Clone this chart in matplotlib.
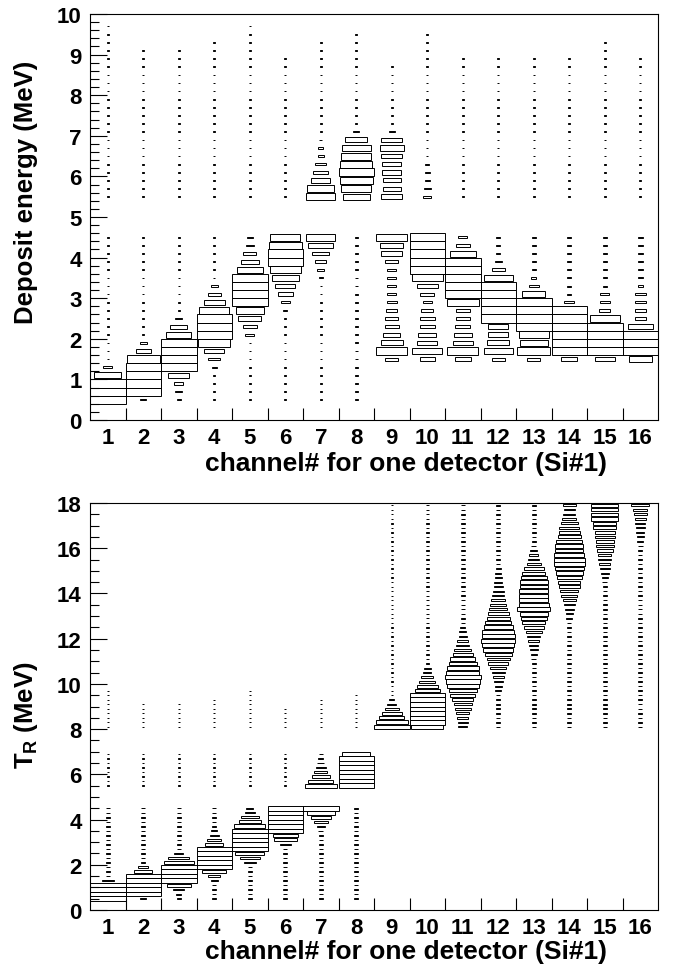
import numpy as np
import matplotlib
matplotlib.use("Agg")
import matplotlib.pyplot as plt
from matplotlib.ticker import MultipleLocator, FixedLocator

plt.rcParams.update({
    "font.family": ["Liberation Sans", "DejaVu Sans"],
    "font.weight": "bold",
    "mathtext.fontset": "custom",
    "mathtext.rm": "Liberation Sans:bold",
    "mathtext.bf": "Liberation Sans:bold",
    "axes.linewidth": 0.8,
})

BIN = 0.2  # MeV per y bin
CHANNELS = list(range(1, 17))

# Deposit energy vs channel: box runs per channel as (first bin centre, relative box sizes)
dep_boxes = {
    1: [(0.5, [1.0, 1.0, 1.0, 0.75, 0.25])],
    2: [(0.5, [0.17, 1.0, 1.0, 1.0, 1.0, 0.94, 0.43, 0.2])],
    3: [(0.5, [0.1, 0.2, 0.26, 0.6, 1.0, 1.0, 1.0, 1.0, 0.7, 0.47, 0.2])],
    4: [(1.3, [0.15, 0.33, 0.57, 0.9, 1.0, 1.0, 1.0, 0.85, 0.6, 0.36, 0.2])],
    5: [(2.1, [0.25, 0.39, 0.65, 0.8, 1.0, 1.0, 1.0, 1.0, 0.72, 0.5, 0.38, 0.22, 0.18])],
    6: [(2.7, [0.12, 0.25, 0.42, 0.57, 0.77, 0.87, 1.0, 1.0, 0.92, 0.85])],
    7: [(3.5, [0.12, 0.19, 0.31, 0.47, 0.7, 0.82]),
        (5.5, [0.82, 0.76, 0.54, 0.42, 0.31, 0.17, 0.15, 0.08])],
    8: [(5.5, [0.75, 0.85, 0.92, 1.0, 0.9, 0.85, 0.82, 0.62, 0.17])],
    9: [(1.5, [0.36, 0.87, 0.63, 0.49, 0.4, 0.36, 0.3, 0.28, 0.24, 0.24, 0.24, 0.24, 0.36, 0.58, 0.66, 0.87]),
        (5.5, [0.58, 0.5, 0.5, 0.54, 0.54, 0.59, 0.68, 0.58, 0.17])],
    10: [(1.5, [0.42, 0.85, 0.57, 0.52, 0.42, 0.42, 0.33, 0.25, 0.39, 0.6, 0.88, 1.0, 1.0, 1.0, 1.0, 1.0]),
         (5.5, [0.23, 0.19, 0.14, 0.13, 0.12])],
    11: [(1.5, [0.44, 0.88, 0.55, 0.5, 0.42, 0.4, 0.4, 0.9, 1.0, 1.0, 1.0, 1.0, 1.0, 0.74, 0.4, 0.26])],
    12: [(1.5, [0.36, 0.81, 0.62, 0.57, 0.57, 1.0, 1.0, 1.0, 1.0, 1.0, 0.81, 0.36, 0.2])],
    13: [(1.5, [0.36, 0.92, 0.8, 0.84, 1.0, 1.0, 1.0, 1.0, 0.66, 0.28, 0.15])],
    14: [(1.5, [0.46, 1.0, 1.0, 1.0, 1.0, 1.0, 1.0, 0.28])],
    15: [(1.5, [0.55, 1.0, 1.0, 1.0, 1.0, 0.85, 0.3, 0.28, 0.25])],
    16: [(1.5, [0.66, 1.0, 1.0, 1.0, 0.7, 0.3, 0.3, 0.3, 0.3])],
}

# sparsely filled bins: (first centre, last centre, box size)
dep_dots = {
    1: [(1.5, 4.5, 0.07), (5.5, 9.7, 0.07)],
    2: [(2.1, 4.5, 0.07), (5.5, 9.1, 0.07)],
    3: [(2.7, 4.5, 0.07), (5.5, 9.1, 0.07)],
    4: [(0.5, 1.1, 0.07), (3.5, 4.5, 0.07), (5.5, 9.3, 0.07)],
    5: [(0.5, 1.9, 0.07), (5.5, 9.7, 0.07)],
    6: [(0.5, 2.5, 0.07), (5.5, 8.9, 0.07)],
    7: [(0.5, 3.3, 0.07), (7.1, 9.3, 0.07)],
    8: [(0.5, 4.5, 0.09), (7.3, 9.5, 0.07)],
    9: [(7.3, 8.7, 0.07)],
    10: [(6.5, 9.5, 0.07)],
    11: [(5.5, 8.9, 0.07)],
    12: [(4.1, 4.5, 0.1), (5.5, 8.9, 0.07)],
    13: [(3.7, 4.5, 0.12), (5.5, 8.9, 0.07)],
    14: [(3.1, 4.5, 0.12), (5.5, 8.9, 0.07)],
    15: [(3.3, 4.5, 0.12), (5.5, 9.3, 0.07)],
    16: [(3.3, 4.5, 0.14), (5.5, 8.9, 0.07)],
}

# T_R vs channel
tr_boxes = {
    1: [(0.5, [1.0, 1.0, 1.0, 1.0, 0.33])],
    2: [(0.5, [0.18, 1.0, 1.0, 1.0, 1.0, 1.0, 0.5, 0.28])],
    3: [(0.5, [0.1, 0.15, 0.3, 0.68, 1.0, 1.0, 1.0, 1.0, 0.85, 0.6, 0.26])],
    4: [(1.3, [0.2, 0.34, 0.68, 1.0, 1.0, 1.0, 1.0, 1.0, 0.52, 0.4, 0.26, 0.16])],
    5: [(2.1, [0.33, 0.56, 0.82, 1.0, 1.0, 1.0, 1.0, 1.0, 0.88, 0.63, 0.5, 0.28, 0.2])],
    6: [(2.7, [0.12, 0.3, 0.64, 0.7, 1.0, 1.0, 1.0, 1.0, 1.0, 1.0])],
    7: [(3.5, [0.15, 0.22, 0.4, 0.56, 0.8, 1.0]),
        (5.5, [0.9, 0.7, 0.52, 0.38, 0.28, 0.2, 0.14, 0.1])],
    8: [(5.5, [1.0, 1.0, 1.0, 1.0, 1.0, 1.0, 1.0, 0.8])],
    9: [(8.1, [1.0, 0.9, 0.7, 0.55, 0.4, 0.25, 0.15])],
    10: [(8.1, [0.9, 1.0, 1.0, 1.0, 1.0, 1.0, 1.0, 1.0, 0.7, 0.6, 0.45, 0.33, 0.22, 0.2])],
    11: [(8.1, [0.25, 0.28, 0.32, 0.38, 0.45, 0.52, 0.6, 0.7, 0.8, 0.9, 0.95, 1.0,
                0.92, 0.9, 0.8, 0.7, 0.55, 0.48, 0.38, 0.3, 0.22, 0.2, 0.15])],
    12: [(9.7, [0.16, 0.2, 0.25, 0.3, 0.38, 0.45, 0.55, 0.65, 0.75, 0.85, 0.9, 0.95, 0.92, 0.9,
                0.83, 0.72, 0.66, 0.58, 0.52, 0.45, 0.4, 0.33, 0.3, 0.25, 0.22, 0.2, 0.18, 0.15])],
    13: [(11.1, [0.15, 0.18, 0.22, 0.26, 0.3, 0.38, 0.45, 0.55, 0.65, 0.72, 0.8, 0.92, 0.85,
                 0.82, 0.82, 0.82, 0.8, 0.78, 0.72, 0.65, 0.55, 0.4, 0.3, 0.25, 0.2, 0.15])],
    14: [(12.9, [0.16, 0.2, 0.25, 0.32, 0.38, 0.45, 0.5, 0.58, 0.62, 0.7, 0.75, 0.82, 0.88,
                 0.88, 0.85, 0.78, 0.78, 0.72, 0.65, 0.6, 0.55, 0.48, 0.4, 0.33, 0.3, 0.36])],
    15: [(14.5, [0.15, 0.18, 0.22, 0.28, 0.3, 0.36, 0.38, 0.45, 0.5, 0.5, 0.56, 0.56,
                 0.66, 0.66, 0.75, 0.75, 0.75, 0.75])],
    16: [(16.1, [0.15, 0.17, 0.2, 0.22, 0.25, 0.28, 0.3, 0.36, 0.4, 0.5])],
}

tr_dots = {
    1: [(1.5, 4.5, 0.1), (5.5, 6.9, 0.07), (8.1, 9.7, 0.07)],
    2: [(2.1, 4.5, 0.1), (5.5, 6.9, 0.07), (8.1, 9.1, 0.07)],
    3: [(2.7, 4.5, 0.1), (5.5, 6.9, 0.07), (8.1, 9.1, 0.07)],
    4: [(0.5, 1.1, 0.1), (3.7, 4.5, 0.1), (5.5, 6.9, 0.07), (8.1, 9.3, 0.07)],
    5: [(0.5, 1.9, 0.1), (5.5, 6.9, 0.07), (8.1, 9.7, 0.07)],
    6: [(0.5, 2.5, 0.1), (5.5, 6.9, 0.07), (8.1, 8.9, 0.07)],
    7: [(0.5, 3.3, 0.1), (8.1, 9.3, 0.07)],
    8: [(0.5, 4.5, 0.12), (8.1, 9.5, 0.07)],
    9: [(9.5, 17.9, 0.07)],
    10: [(10.9, 17.9, 0.08)],
    11: [(12.7, 17.9, 0.1)],
    12: [(8.1, 9.5, 0.12), (15.3, 17.9, 0.12)],
    13: [(8.1, 10.9, 0.12), (16.3, 17.9, 0.12)],
    14: [(8.1, 12.7, 0.12)],
    15: [(8.1, 14.3, 0.12)],
    16: [(8.1, 15.9, 0.1)],
}


def collect(boxes, dots):
    xs, ys, fs = [], [], []
    for ch, runs in boxes.items():
        for y0, sizes in runs:
            for k, f in enumerate(sizes):
                xs.append(ch)
                ys.append(y0 + k * BIN)
                fs.append(f)
    for ch, runs in dots.items():
        for lo, hi, f in runs:
            n = int(round((hi - lo) / BIN)) + 1
            for k in range(n):
                xs.append(ch)
                ys.append(lo + k * BIN)
                fs.append(f)
    return np.array(xs, float), np.array(ys, float), np.array(fs, float)


def draw_panel(ax, boxes, dots, ymax, major, minor):
    x, y, f = collect(boxes, dots)
    # box size scales both the width and the height of the cell
    ax.bar(x, f * BIN, width=f, bottom=y - f * BIN / 2, fill=False,
           edgecolor="black", linewidth=0.7, align="center")
    ax.set_xlim(0.5, 16.5)
    ax.set_ylim(0, ymax)
    ax.set_xticks(CHANNELS)
    ax.set_xticklabels([str(c) for c in CHANNELS])
    ax.xaxis.set_minor_locator(FixedLocator(np.arange(1.5, 16.5, 1.0)))
    ax.yaxis.set_major_locator(MultipleLocator(major))
    ax.yaxis.set_minor_locator(MultipleLocator(minor))
    ax.tick_params(axis="x", which="major", length=0, pad=5, labelsize=16)
    ax.tick_params(axis="x", which="minor", direction="in", length=8.5, width=0.8)
    ax.tick_params(axis="y", which="major", direction="in", length=12, width=0.8,
                   pad=6, labelsize=16)
    ax.tick_params(axis="y", which="minor", direction="in", length=6.5, width=0.8)
    for lab in ax.get_xticklabels() + ax.get_yticklabels():
        lab.set_fontweight("bold")


W, H = 675, 970
fig = plt.figure(figsize=(W / 100, H / 100), dpi=100)

ax_top = fig.add_axes([90 / W, 1 - 421 / H, 568 / W, 406 / H])
draw_panel(ax_top, dep_boxes, dep_dots, 10, 1, 0.2)

ax_bot = fig.add_axes([90 / W, 1 - 911 / H, 568 / W, 407 / H])
draw_panel(ax_bot, tr_boxes, tr_dots, 18, 2, 0.5)

xlabel = "channel# for one detector (Si#1)"
fig.text(607 / W, 1 - 464 / H, xlabel, ha="right", va="center", fontsize=19, fontweight="bold")
fig.text(607 / W, 1 - 952 / H, xlabel, ha="right", va="center", fontsize=19, fontweight="bold")
fig.text(26 / W, 1 - 192 / H, "Deposit energy (MeV)", rotation=90, ha="center", va="center",
         fontsize=18.5, fontweight="bold")
fig.text(26 / W, 1 - 715 / H, r"T$_{\mathrm{R}}$ (MeV)", rotation=90, ha="center", va="center",
         fontsize=18.5, fontweight="bold")

fig.savefig("out.png", dpi=100)
